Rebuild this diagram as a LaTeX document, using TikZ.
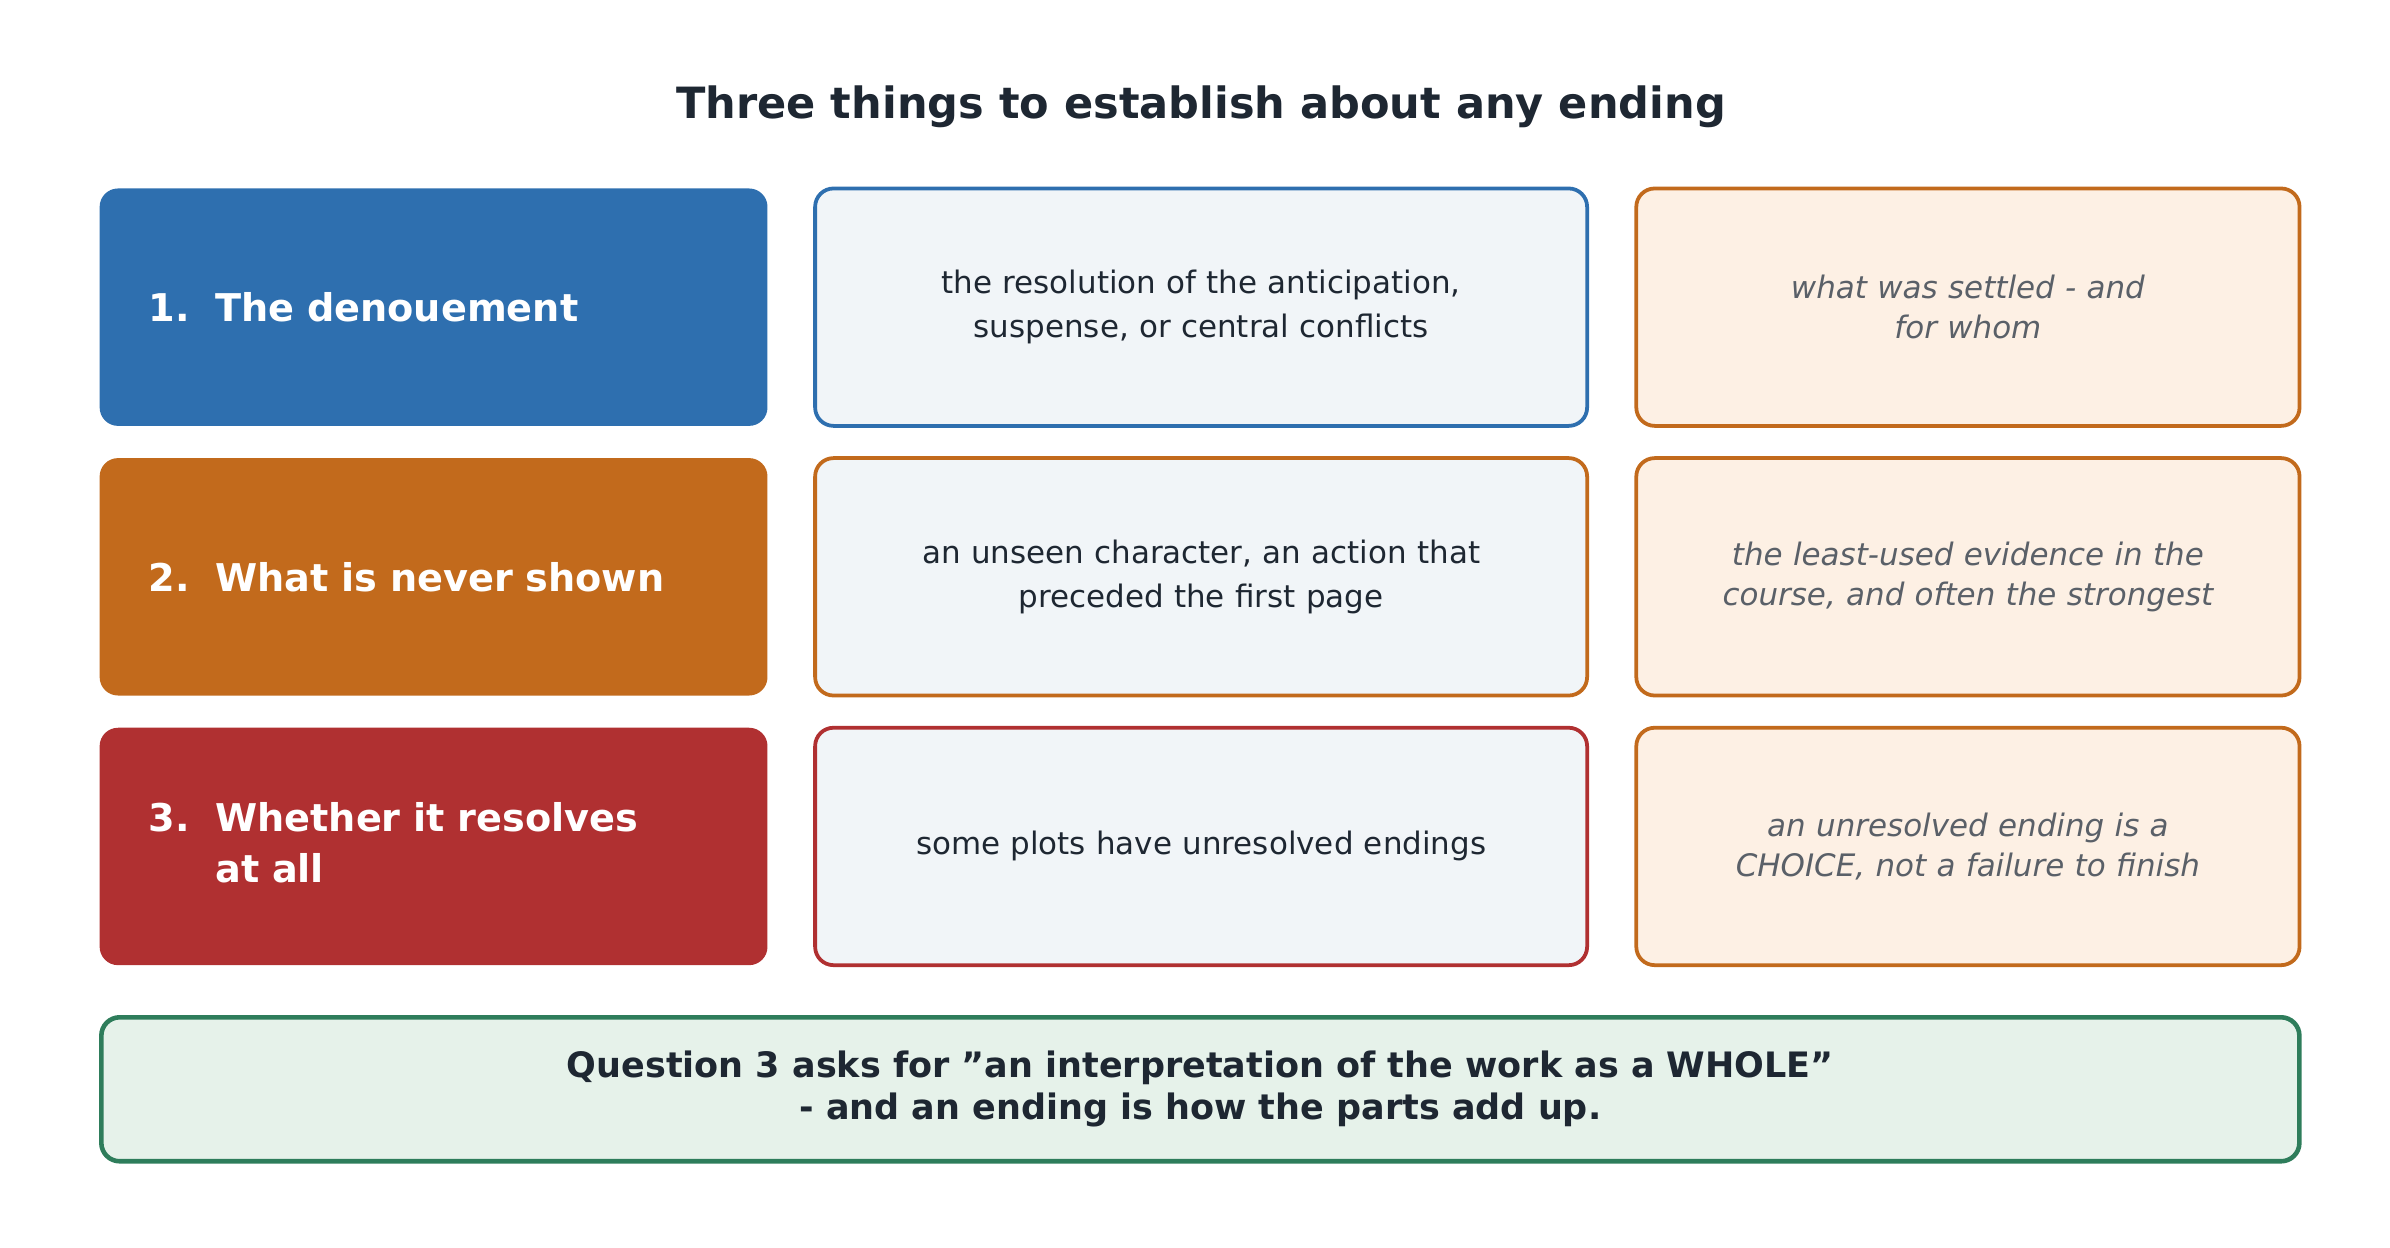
\documentclass[tikz,border=0pt]{standalone}
\usepackage{fontspec}
\setmainfont{DejaVu Sans}
\usetikzlibrary{positioning}
\definecolor{dblue}{HTML}{2E6FAF}
\definecolor{dorange}{HTML}{C26A1C}
\definecolor{dred}{HTML}{B03031}
\definecolor{dgreen}{HTML}{2E7D5B}
\definecolor{lgreen}{HTML}{E6F2EA}
\definecolor{lgray}{HTML}{F1F5F8}
\definecolor{lpeach}{HTML}{FDF0E4}
\definecolor{ink}{HTML}{1E2732}
\definecolor{muted}{HTML}{5A6068}
\begin{document}
\begin{tikzpicture}[x=0.02cm, y=-0.02cm,
    head/.style={rectangle, rounded corners=0.24cm, minimum width=8.72cm, minimum height=3.1cm, inner xsep=0.64cm, text width=7.44cm, align=left, text=white, font=\fontsize{14.2}{19}\selectfont\bfseries},
    defn/.style={rectangle, rounded corners=0.24cm, draw, line width=1.4pt, fill=lgray, minimum width=10.08cm, minimum height=3.1cm, text width=9cm, align=center, text=ink, font=\fontsize{11.5}{16.5}\selectfont},
    note/.style={rectangle, rounded corners=0.24cm, draw=dorange, line width=1.4pt, fill=lpeach, minimum width=8.66cm, minimum height=3.1cm, text width=8cm, align=center, text=muted, font=\fontsize{11.5}{15}\selectfont\itshape}]

    \useasboundingbox (0,0) rectangle (1560,814);

    \node (title) [text=ink, font=\fontsize{16}{20}\selectfont\bfseries] at (784,70) {Three things to establish about any ending};

    % Row 1
    \node (head1) [head, fill=dblue] at (283,200.5) {1.\ \ The denouement};
    \node (defn1) [defn, draw=dblue] at (784,200.5) {the resolution of the anticipation,\\suspense, or central conflicts};
    \node (note1) [note] at (1284.5,200.5) {what was settled - and\\for whom};

    % Row 2
    \node (head2) [head, fill=dorange] at (283,376.5) {2.\ \ What is never shown};
    \node (defn2) [defn, draw=dorange] at (784,376.5) {an unseen character, an action that\\preceded the first page};
    \node (note2) [note] at (1284.5,376.5) {the least-used evidence in the\\course, and often the strongest};

    % Row 3
    \node (head3) [head, fill=dred] at (283,552.5) {\begin{tabular}{@{}l@{\ \ }l@{}}3.&Whether it resolves\\&at all\end{tabular}};
    \node (defn3) [defn, draw=dred] at (784,552.5) {some plots have unresolved endings};
    \node (note3) [note] at (1284.5,552.5) {an unresolved ending is a\\CHOICE, not a failure to finish};

    % Summary
    \node (summary) [rectangle, rounded corners=0.24cm, draw=dgreen, line width=1.7pt, fill=lgreen, minimum width=28.7cm, minimum height=1.88cm, align=center, text=ink, font=\fontsize{13}{15.5}\selectfont\bfseries] at (783.5,711) {Question 3 asks for "an interpretation of the work as a WHOLE"\\- and an ending is how the parts add up.};

\end{tikzpicture}
\end{document}
